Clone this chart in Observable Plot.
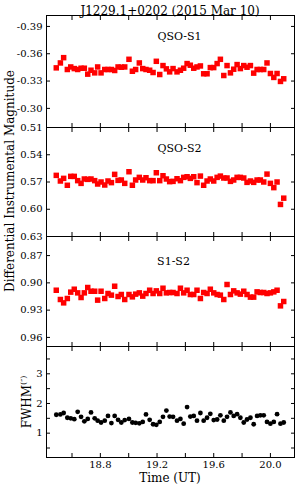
<!DOCTYPE html>
<html><head><meta charset="utf-8">
<script src="https://cdn.jsdelivr.net/npm/d3@7"></script>
<script src="https://cdn.jsdelivr.net/npm/@observablehq/plot@0.6"></script>
<style>
body{margin:0;background:#fff;}
#c{position:relative;width:300px;height:491px;font-family:"DejaVu Serif",serif;color:#000;overflow:hidden;}
#c svg{position:absolute;left:0;}
.t{position:absolute;white-space:nowrap;font-size:12px;line-height:1.2;}
</style></head><body><div id="c"></div>
<script>
const time = [18.489,18.518,18.541,18.567,18.591,18.616,18.640,18.664,18.687,18.711,
18.734,18.760,18.781,18.805,18.831,18.854,18.878,18.901,18.925,18.948,
18.972,19.002,19.026,19.049,19.075,19.099,19.122,19.148,19.172,19.195,
19.219,19.242,19.266,19.289,19.313,19.341,19.365,19.388,19.412,19.435,
19.459,19.482,19.506,19.529,19.553,19.576,19.600,19.624,19.647,19.671,
19.694,19.718,19.741,19.765,19.788,19.812,19.835,19.859,19.882,19.906,
19.929,19.953,19.976,20.000,20.024,20.047,20.071,20.094];

const qsoS1 = [-0.3445,-0.3499,-0.3557,-0.3427,-0.3455,-0.3437,-0.3427,-0.3441,-0.3441,-0.3376,
-0.3419,-0.3390,-0.3455,-0.3390,-0.3427,-0.3427,-0.3427,-0.3416,-0.3455,-0.3452,
-0.3455,-0.3539,-0.3408,-0.3427,-0.3499,-0.3437,-0.3427,-0.3419,-0.3394,-0.3517,
-0.3372,-0.3470,-0.3434,-0.3401,-0.3437,-0.3401,-0.3419,-0.3441,-0.3492,-0.3474,
-0.3441,-0.3455,-0.3466,-0.3380,-0.3380,-0.3448,-0.3448,-0.3492,-0.3539,-0.3361,
-0.3470,-0.3390,-0.3430,-0.3481,-0.3437,-0.3470,-0.3452,-0.3470,-0.3387,-0.3427,
-0.3427,-0.3427,-0.3499,-0.3383,-0.3340,-0.3383,-0.3296,-0.3325];

const qsoS2 = [0.5627,0.5689,0.5660,0.5736,0.5638,0.5638,0.5685,0.5715,0.5667,0.5671,
0.5667,0.5685,0.5722,0.5700,0.5733,0.5689,0.5707,0.5616,0.5682,0.5678,
0.5715,0.5587,0.5736,0.5678,0.5649,0.5678,0.5653,0.5685,0.5685,0.5598,
0.5685,0.5631,0.5667,0.5696,0.5693,0.5664,0.5685,0.5649,0.5642,0.5660,
0.5642,0.5707,0.5635,0.5736,0.5689,0.5667,0.5689,0.5649,0.5635,0.5656,
0.5656,0.5693,0.5678,0.5649,0.5649,0.5656,0.5704,0.5689,0.5704,0.5678,
0.5678,0.5700,0.5613,0.5715,0.5762,0.5700,0.5947,0.5878];

const s1s2 = [0.9081,0.9183,0.9220,0.9172,0.9102,0.9070,0.9110,0.9161,0.9110,0.9051,
0.9092,0.9092,0.9190,0.9092,0.9172,0.9117,0.9135,0.9037,0.9150,0.9128,
0.9183,0.9128,0.9154,0.9124,0.9110,0.9146,0.9117,0.9081,0.9117,0.9088,
0.9117,0.9059,0.9110,0.9106,0.9106,0.9117,0.9059,0.9110,0.9081,0.9128,
0.9128,0.9081,0.9172,0.9106,0.9117,0.9070,0.9110,0.9128,0.9135,0.9183,
0.9018,0.9128,0.9088,0.9110,0.9124,0.9092,0.9128,0.9157,0.9157,0.9099,
0.9106,0.9106,0.9117,0.9110,0.9099,0.9081,0.9253,0.9205];

const fwhm = [1.62,1.63,1.68,1.52,1.50,1.47,1.72,1.55,1.40,1.48,
1.70,1.50,1.42,1.36,1.42,1.58,1.34,1.58,1.45,1.36,
1.44,1.48,1.36,1.35,1.33,1.38,1.63,1.45,1.30,1.28,
1.38,1.55,1.76,1.56,1.55,1.42,1.48,1.32,1.88,1.56,
1.58,1.42,1.68,1.42,1.52,1.65,1.44,1.46,1.60,1.42,
1.55,1.70,1.58,1.64,1.52,1.36,1.46,1.52,1.30,1.58,
1.60,1.60,1.38,1.32,1.38,1.64,1.32,1.36];

const xTicks = [18.6,18.8,19.0,19.2,19.4,19.6,19.8,20.0];
const xLabelTicks = [18.8,19.2,19.6,20.0];
const s1Ticks = [-0.39,-0.36,-0.33,-0.30];
const s2Ticks = [0.51,0.54,0.57,0.60,0.63];
const s12Ticks = [0.87,0.90,0.93,0.96];
const fwhmTicks = [0.5,1,1.5,2,2.5,3,3.5];
const fwhmLabelTicks = [1,2,3];

const container = document.getElementById("c");
const PAD = 8;

function panel(o) {
  const rows = time.map((t, i) => ({t, v: o.values[i]}));
  const mb = o.bottom ? 24 : PAD;
  const marks = [
    Plot.frame({stroke: "black", strokeWidth: 1}),
    Plot.dot(rows, {x: "t", y: "v", symbol: o.symbol, r: o.r, fill: o.fill, stroke: null}),
    Plot.axisY(o.ticks, {anchor: "left", tickSize: -4, fill: "none", stroke: "black"}),
    Plot.axisY(o.ticks, {anchor: "right", tickSize: -4, fill: "none", stroke: "black"}),
    Plot.axisY(o.labelTicks, {anchor: "left", tickSize: 0, tickPadding: 4, stroke: "none", fill: "black", tickFormat: o.fmt, fontSize: 10}),
    Plot.axisX(xTicks, {anchor: "top", tickSize: -4, fill: "none", stroke: "black"}),
    Plot.axisX(xTicks, {anchor: "bottom", tickSize: -4, fill: "none", stroke: "black"}),
    Plot.text([o.label], {frameAnchor: "top", dy: o.labelDy, dx: o.labelDx, fontSize: 11, fill: "black"})
  ];
  if (o.bottom) {
    marks.push(Plot.axisX(xLabelTicks, {anchor: "bottom", tickSize: 0, tickPadding: 3, stroke: "none", fill: "black", tickFormat: d => d.toFixed(1), fontSize: 10}));
  }
  const svg = Plot.plot({
    width: 300,
    height: o.h + PAD + mb,
    marginLeft: 46, marginRight: 6, marginTop: PAD, marginBottom: mb,
    x: {domain: [18.42, 20.17], label: null},
    y: {domain: o.domain, reverse: o.reverse, label: null},
    style: {fontFamily: "DejaVu Serif", fontSize: "10px", background: "transparent", overflow: "visible", color: "black"},
    marks
  });
  svg.style.top = (o.top - PAD) + "px";
  container.appendChild(svg);
}

panel({values: qsoS1, domain: [-0.402, -0.279], reverse: true, ticks: s1Ticks, labelTicks: s1Ticks, fmt: d => d.toFixed(2), top: 15, h: 112, label: "QSO-S1", labelDy: 17, labelDx: 9, symbol: "square", r: 3.1, fill: "#ff0000"});
panel({values: qsoS2, domain: [0.51, 0.63], reverse: true, ticks: s2Ticks, labelTicks: s2Ticks, fmt: d => d.toFixed(2), top: 127, h: 109, label: "QSO-S2", labelDy: 17, labelDx: 9, symbol: "square", r: 3.1, fill: "#ff0000"});
panel({values: s1s2, domain: [0.849, 0.97], reverse: true, ticks: s12Ticks, labelTicks: s12Ticks, fmt: d => d.toFixed(2), top: 236, h: 110, label: "S1-S2", labelDy: 21, labelDx: 3, symbol: "square", r: 3.1, fill: "#ff0000"});
panel({values: fwhm, domain: [0.18, 3.92], reverse: false, ticks: fwhmTicks, labelTicks: fwhmLabelTicks, fmt: d => d.toFixed(0), top: 346, h: 111, label: "", labelDy: 0, labelDx: 0, symbol: "circle", r: 2.4, fill: "black", bottom: true});

function addText(html, x, y, rot, size) {
  const d = document.createElement("div");
  d.className = "t";
  d.innerHTML = html;
  d.style.left = x + "px";
  d.style.top = y + "px";
  if (size) d.style.fontSize = size + "px";
  d.style.transform = "translate(-50%,-50%)" + (rot ? " rotate(-90deg)" : "");
  container.appendChild(d);
}
addText("J1229.1+0202 (2015 Mar 10)", 170, 11, false, 12);
addText("Differential Instrumental Magnitude", 10, 181, true, 12);
addText("FWHM<sup style=\"font-size:8px\">(″)</sup>", 27, 402, true, 12);
addText("Time (UT)", 170, 478, false, 12);
</script></body></html>
